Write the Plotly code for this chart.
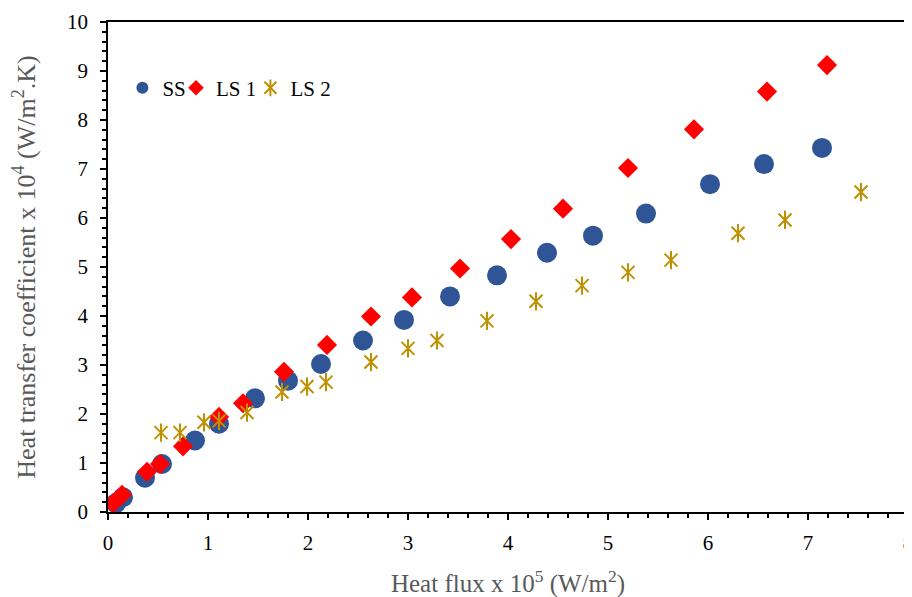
import plotly.graph_objects as go

# Heat flux x 10^5 (W/m2) and heat transfer coefficient x 10^4 (W/m2.K)
ss_x = [0.08, 0.15, 0.37, 0.54, 0.87, 1.11, 1.47, 1.80, 2.13, 2.55, 2.96, 3.42, 3.89, 4.39, 4.85, 5.38, 6.02, 6.56, 7.14]
ss_y = [0.18, 0.30, 0.70, 0.98, 1.46, 1.80, 2.32, 2.68, 3.02, 3.50, 3.92, 4.40, 4.83, 5.29, 5.64, 6.09, 6.69, 7.10, 7.43]

ls1_x = [0.05, 0.14, 0.39, 0.52, 0.75, 1.11, 1.35, 1.76, 2.19, 2.63, 3.04, 3.52, 4.03, 4.55, 5.20, 5.86, 6.59, 7.19]
ls1_y = [0.18, 0.35, 0.82, 0.98, 1.34, 1.94, 2.22, 2.86, 3.41, 3.99, 4.38, 4.97, 5.57, 6.19, 7.02, 7.81, 8.58, 9.12]

ls2_x = [0.53, 0.72, 0.96, 1.11, 1.39, 1.74, 1.99, 2.18, 2.63, 3.00, 3.29, 3.79, 4.28, 4.74, 5.20, 5.63, 6.30, 6.77, 7.53]
ls2_y = [1.62, 1.62, 1.83, 1.86, 2.03, 2.45, 2.56, 2.65, 3.06, 3.34, 3.50, 3.90, 4.30, 4.62, 4.89, 5.14, 5.69, 5.96, 6.53]

x_ticks = [0, 1, 2, 3, 4, 5, 6, 7, 8]
y_ticks = [0, 1, 2, 3, 4, 5, 6, 7, 8, 9, 10]

FONT = "Liberation Serif, Times New Roman, serif"
GOLD = "#BF9000"

fig = go.Figure()
fig.add_trace(go.Scatter(
    x=ss_x, y=ss_y, mode="markers", name="SS", legend="legend",
    marker=dict(symbol="circle", size=20, color="#2F5597"),
))
fig.add_trace(go.Scatter(
    x=ls1_x, y=ls1_y, mode="markers", name="LS 1", legend="legend2",
    marker=dict(symbol="diamond", size=15.5, color="#FF0000"),
))
fig.add_trace(go.Scatter(
    x=ls2_x, y=ls2_y, mode="markers", name="LS 2", legend="legend3",
    marker=dict(symbol="x-thin-open", size=13, color=GOLD,
                line=dict(color=GOLD, width=2)),
))
fig.add_trace(go.Scatter(
    x=ls2_x, y=ls2_y, mode="markers", name=" ", legend="legend4",
    marker=dict(symbol="line-ns-open", size=13, color=GOLD,
                line=dict(color=GOLD, width=2)),
))

axis_common = dict(
    showgrid=False, zeroline=False, automargin=False,
    showline=True, linecolor="black", linewidth=1.5, mirror=True,
    ticks="outside", ticklen=6, tickwidth=1.5, tickcolor="black",
    tickfont=dict(family=FONT, size=21, color="black"),
)

fig.update_xaxes(
    range=[0, 8], tickvals=x_ticks, ticklabelstandoff=5,
    minor=dict(dtick=0.2, ticks="outside", ticklen=4, tickwidth=1.5, tickcolor="black"),
    title=dict(text="Heat flux x 10<sup>5</sup> (W/m<sup>2</sup>)",
               font=dict(family=FONT, size=25, color="#595959"), standoff=21),
    **axis_common,
)
fig.update_yaxes(
    range=[0, 10], tickvals=y_ticks, ticklabelstandoff=8,
    minor=dict(dtick=0.2, ticks="outside", ticklen=4, tickwidth=1.5, tickcolor="black"),
    title=dict(text="Heat transfer coefficient x 10<sup>4</sup> (W/m<sup>2</sup>.K)",
               font=dict(family=FONT, size=26, color="#595959"), standoff=40),
    **axis_common,
)

leg_common = dict(orientation="h", y=0.865, xanchor="left", yanchor="middle",
                  bgcolor="rgba(0,0,0,0)", font=dict(family=FONT, size=21, color="black"),
                  itemsizing="constant")

fig.update_layout(
    width=912, height=597,
    margin=dict(l=100, r=12, t=14, b=93),
    paper_bgcolor="white", plot_bgcolor="white",
    showlegend=True,
    legend=dict(x=0.018, **leg_common),
    legend2=dict(x=0.085, **leg_common),
    legend3=dict(x=0.178, **leg_common),
    legend4=dict(x=0.178, **leg_common),
)

fig.write_html("out.html")
